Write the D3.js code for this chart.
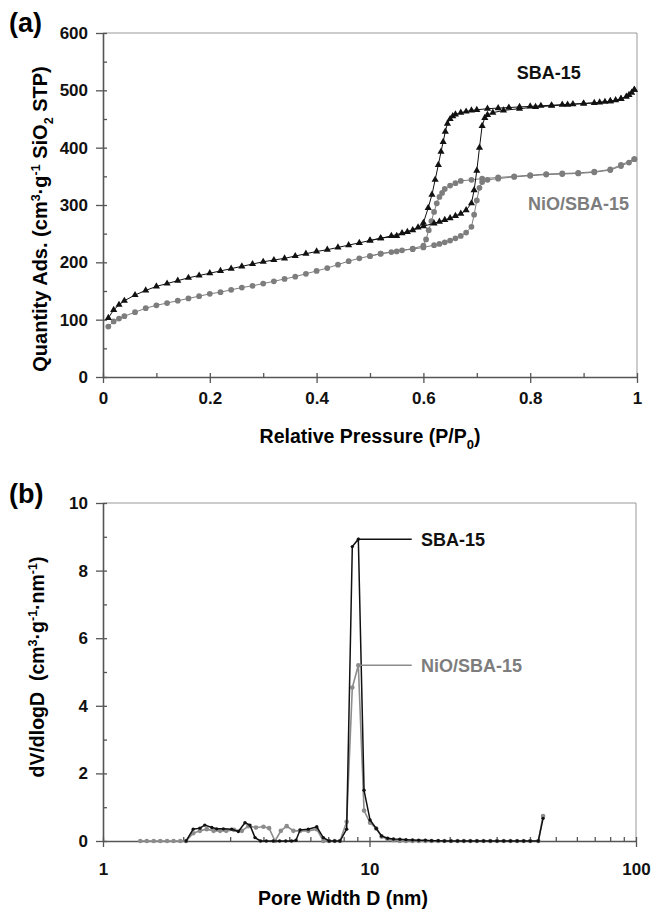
<!DOCTYPE html>
<html>
<head>
<meta charset="utf-8">
<script src="https://cdn.jsdelivr.net/npm/d3@7/dist/d3.min.js"></script>
<style>
  body { margin: 0; background: #fff; }
  text { font-family: "Liberation Sans", Arial, sans-serif; font-weight: bold; }
  .tick text { font-size: 17px; fill: #111; }
</style>
</head>
<body>
<div id="chart"></div>
<script>
// ---- (a) N2 isotherms: [P/P0, quantity adsorbed] ----
const sbaAds = [
  [0.01, 103], [0.02, 117], [0.03, 126], [0.04, 133], [0.06, 143], [0.08, 151], [0.10, 158],
  [0.12, 163], [0.14, 168], [0.16, 173], [0.18, 177], [0.20, 181], [0.22, 185], [0.24, 189],
  [0.26, 193], [0.28, 197], [0.30, 201], [0.32, 204], [0.34, 207], [0.36, 211], [0.38, 215],
  [0.40, 219], [0.42, 222], [0.44, 226], [0.46, 230], [0.48, 234], [0.50, 238], [0.52, 242],
  [0.54, 246], [0.56, 251], [0.58, 256], [0.60, 263], [0.62, 268], [0.63, 271], [0.64, 274],
  [0.65, 277], [0.66, 281], [0.67, 285], [0.68, 291], [0.69, 303], [0.695, 326], [0.70, 360],
  [0.705, 400], [0.71, 438], [0.715, 452], [0.72, 457], [0.73, 461], [0.75, 465], [0.78, 468],
  [0.81, 471], [0.84, 473], [0.87, 475], [0.90, 477], [0.93, 479], [0.95, 481], [0.97, 485],
  [0.98, 489], [0.99, 496], [0.995, 501]
]
const sbaDes = [
  [0.995, 501], [0.985, 492], [0.97, 485], [0.96, 483], [0.95, 481], [0.94, 480], [0.92, 478],
  [0.90, 477], [0.88, 476], [0.86, 475], [0.84, 474], [0.82, 473], [0.80, 472], [0.78, 471],
  [0.76, 470], [0.74, 469], [0.72, 468], [0.70, 466], [0.69, 465], [0.68, 463], [0.67, 461],
  [0.66, 458], [0.655, 455], [0.65, 450], [0.645, 442], [0.641, 428], [0.637, 410], [0.633, 393],
  [0.628, 370], [0.622, 344], [0.616, 318], [0.609, 295], [0.60, 269], [0.59, 261], [0.57, 253],
  [0.55, 246], [0.52, 242], [0.50, 238]
]
const nioAds = [
  [0.01, 88], [0.02, 97], [0.03, 102], [0.04, 106], [0.06, 113], [0.08, 120], [0.10, 125],
  [0.12, 129], [0.14, 133], [0.16, 137], [0.18, 141], [0.20, 145], [0.22, 148], [0.24, 152],
  [0.26, 156], [0.28, 159], [0.30, 163], [0.32, 167], [0.34, 171], [0.36, 175], [0.38, 180],
  [0.40, 185], [0.42, 190], [0.44, 196], [0.46, 202], [0.48, 207], [0.50, 211], [0.52, 215],
  [0.54, 218], [0.56, 221], [0.58, 223], [0.60, 226], [0.62, 230], [0.63, 232], [0.64, 235],
  [0.65, 238], [0.66, 242], [0.67, 246], [0.68, 252], [0.69, 262], [0.695, 283], [0.70, 308],
  [0.705, 330], [0.71, 340], [0.72, 344], [0.74, 346], [0.77, 349], [0.80, 351], [0.83, 353],
  [0.86, 354], [0.89, 355], [0.92, 357], [0.95, 361], [0.97, 368], [0.985, 374], [0.995, 380]
]
const nioDes = [
  [0.995, 380], [0.97, 370], [0.95, 362], [0.92, 358], [0.89, 356], [0.86, 355], [0.83, 354],
  [0.80, 352], [0.77, 350], [0.74, 348], [0.71, 346], [0.69, 344], [0.67, 342], [0.66, 338],
  [0.65, 334], [0.64, 328], [0.635, 321], [0.63, 314], [0.625, 303], [0.62, 288], [0.615, 272],
  [0.61, 256], [0.605, 240], [0.60, 229], [0.58, 224], [0.55, 219], [0.52, 215], [0.50, 211]
]
const xTicksA = [0, 0.2, 0.4, 0.6, 0.8, 1]
const xMinorA = [0.1, 0.3, 0.5, 0.7, 0.9]
const yTicksA = [0, 100, 200, 300, 400, 500, 600]
const yMinorA = [50, 150, 250, 350, 450, 550]

// ---- (b) pore size distribution: [D (nm), dV/dlogD] ----
const sbaPsd = [
  [2.05, 0], [2.18, 0.35], [2.31, 0.38], [2.41, 0.47], [2.56, 0.4], [2.67, 0.36], [2.83, 0.36],
  [3.04, 0.35], [3.22, 0.28], [3.41, 0.54], [3.56, 0.47], [3.72, 0.1], [3.9, 0], [4.1, 0],
  [4.35, 0], [4.6, 0], [4.85, 0], [5.1, 0], [5.3, 0.02], [5.49, 0.33], [5.89, 0.35], [6.34, 0.42],
  [6.71, 0.1], [7.05, 0], [7.4, 0], [7.75, 0], [8.21, 0.35], [8.62, 8.71], [9.08, 8.93],
  [9.54, 1.5], [10.05, 0.62], [10.6, 0.37], [11.1, 0.15], [11.7, 0.08], [12.3, 0.06],
  [13.0, 0.05], [13.7, 0.04], [14.5, 0.03], [15.3, 0.02], [16.2, 0.02], [17.1, 0.01],
  [18.1, 0.01], [19.1, 0], [20.2, 0], [21.4, 0], [22.6, 0], [23.9, 0], [25.3, 0], [26.8, 0],
  [28.4, 0], [30.1, 0], [31.9, 0], [33.8, 0], [35.8, 0], [37.9, 0], [40.1, 0], [43.0, 0],
  [44.8, 0.67]
]
const nioPsd = [
  [1.38, 0], [1.46, 0], [1.55, 0], [1.64, 0], [1.74, 0], [1.84, 0], [1.95, 0], [2.05, 0],
  [2.18, 0.23], [2.31, 0.3], [2.45, 0.35], [2.6, 0.3], [2.75, 0.3], [2.9, 0.3], [3.1, 0.33],
  [3.32, 0.3], [3.51, 0.44], [3.75, 0.4], [4.0, 0.42], [4.2, 0.38], [4.42, 0], [4.65, 0.3],
  [4.89, 0.44], [5.18, 0.3], [5.49, 0.3], [5.89, 0.3], [6.34, 0.35], [6.71, 0], [7.05, 0],
  [7.4, 0], [7.75, 0], [8.21, 0.57], [8.62, 4.54], [9.08, 5.2], [9.54, 0.9], [10.05, 0.54],
  [10.6, 0.37], [11.1, 0.13], [11.7, 0.05], [12.3, 0.02], [13.0, 0], [13.7, 0], [14.5, 0],
  [15.3, 0], [16.2, 0], [17.1, 0], [18.1, 0], [19.1, 0], [20.2, 0], [21.4, 0], [22.6, 0],
  [23.9, 0], [25.3, 0], [26.8, 0], [28.4, 0], [30.1, 0], [31.9, 0], [33.8, 0], [35.8, 0],
  [37.9, 0], [40.1, 0], [43.0, 0], [44.8, 0.74]
]
const xTicksB = [1, 10, 100]
const xMinorB = [2, 3, 4, 5, 6, 7, 8, 9, 20, 30, 40, 50, 60, 70, 80, 90]
const yTicksB = [0, 2, 4, 6, 8, 10]
const yMinorB = [1, 3, 5, 7, 9]

const BLACK = '#111'
const GRAY = '#7d7d7d'

const svg = d3.select('#chart')
  .append('svg')
  .attr('width', 651)
  .attr('height', 909)

// frame + inside/outside ticks for one panel
const drawAxes = (g, x, y, w, h, xt, xm, yt, ym, xfmt, xpad) => {
  // top & right frame
  g.append('path')
    .attr('d', `M0,0H${w}V${h}`)
    .attr('fill', 'none')
    .attr('stroke', '#999')
    .attr('stroke-width', 1)

  // inside ticks (major + minor)
  g.append('g')
    .attr('transform', `translate(0,${h})`)
    .call(d3.axisBottom(x).tickValues(xt.concat(xm)).tickSize(-4).tickFormat(''))
    .call(s => s.select('.domain').remove())
  g.append('g')
    .call(d3.axisLeft(y).tickValues(yt.concat(ym)).tickSize(-4).tickFormat(''))
    .call(s => s.select('.domain').remove())

  // outside ticks with labels
  g.append('g')
    .attr('transform', `translate(0,${h})`)
    .call(d3.axisBottom(x).tickValues(xt).tickSize(6).tickSizeOuter(0).tickPadding(xpad).tickFormat(xfmt))
  g.append('g')
    .call(d3.axisLeft(y).tickValues(yt).tickSize(7).tickSizeOuter(0).tickPadding(8))

  g.selectAll('.tick line').attr('stroke', '#555').attr('stroke-width', 1.3)
  g.selectAll('.domain').attr('stroke', '#555').attr('stroke-width', 1.6)
}

// ---------------- Panel (a) ----------------
const gA = svg.append('g').attr('transform', 'translate(103,33)')
const wA = 534
const hA = 344
const xA = d3.scaleLinear().domain([0, 1]).range([0, wA])
const yA = d3.scaleLinear().domain([0, 600]).range([hA, 0])

drawAxes(gA, xA, yA, wA, hA, xTicksA, xMinorA, yTicksA, yMinorA, d => d, 9)

const lineA = d3.line().x(d => xA(d[0])).y(d => yA(d[1]))

const drawIso = (data, color, marker) => {
  gA.append('path')
    .datum(data)
    .attr('fill', 'none')
    .attr('stroke', color)
    .attr('stroke-width', 1)
    .attr('d', lineA)
  gA.append('g')
    .selectAll('path')
    .data(data)
    .join('path')
    .attr('transform', d => `translate(${xA(d[0])},${yA(d[1])})`)
    .attr('d', d3.symbol().type(marker).size(marker === d3.symbolTriangle ? 22 : 26))
    .attr('fill', color)
}

drawIso(nioAds, GRAY, d3.symbolCircle)
drawIso(nioDes, GRAY, d3.symbolCircle)
drawIso(sbaAds, BLACK, d3.symbolTriangle)
drawIso(sbaDes, BLACK, d3.symbolTriangle)

gA.append('text')
  .attr('x', xA(0.775)).attr('y', yA(520))
  .attr('font-size', 18).attr('fill', BLACK)
  .text('SBA-15')
gA.append('text')
  .attr('x', xA(0.796)).attr('y', yA(292))
  .attr('font-size', 18).attr('fill', GRAY)
  .text('NiO/SBA-15')

// axis titles (a)
svg.append('text')
  .attr('x', 370).attr('y', 443)
  .attr('text-anchor', 'middle')
  .attr('font-size', 19.5)
  .call(t => {
    t.append('tspan').text('Relative Pressure (P/P')
    t.append('tspan').attr('dy', 6).attr('font-size', 13).text('0')
    t.append('tspan').attr('dy', -6).text(')')
  })

svg.append('text')
  .attr('transform', 'translate(47,219) rotate(-90)')
  .attr('text-anchor', 'middle')
  .attr('font-size', 20)
  .call(t => {
    t.append('tspan').text('Quantity Ads. (cm')
    t.append('tspan').attr('dy', -7).attr('font-size', 12.5).text('3')
    t.append('tspan').attr('dy', 7).text('·g')
    t.append('tspan').attr('dy', -7).attr('font-size', 12.5).text('-1')
    t.append('tspan').attr('dy', 7).text(' SiO')
    t.append('tspan').attr('dy', 6).attr('font-size', 12.5).text('2')
    t.append('tspan').attr('dy', -6).text(' STP)')
  })

svg.append('text')
  .attr('x', 9).attr('y', 32)
  .attr('font-size', 27)
  .text('(a)')

// ---------------- Panel (b) ----------------
const gB = svg.append('g').attr('transform', 'translate(103,503)')
const wB = 533
const hB = 338
const xB = d3.scaleLog().domain([1, 100]).range([0, wB])
const yB = d3.scaleLinear().domain([0, 10]).range([hB, 0])

drawAxes(gB, xB, yB, wB, hB, xTicksB, xMinorB, yTicksB, yMinorB, d3.format('d'), 16)

const lineB = d3.line().x(d => xB(d[0])).y(d => yB(d[1]))

const drawPsd = (data, color, r, lw) => {
  gB.append('path')
    .datum(data)
    .attr('fill', 'none')
    .attr('stroke', color)
    .attr('stroke-width', lw)
    .attr('d', lineB)
  gB.append('g')
    .selectAll('circle')
    .data(data)
    .join('circle')
    .attr('cx', d => xB(d[0]))
    .attr('cy', d => yB(d[1]))
    .attr('r', r)
    .attr('fill', color)
}

drawPsd(nioPsd, '#8c8c8c', 2.3, 1.6)
drawPsd(sbaPsd, BLACK, 1.7, 1.5)

// leader lines + labels, anchored at the peak points
const sbaPeak = sbaPsd[28]
const nioPeak = nioPsd[33]
gB.append('line')
  .attr('x1', xB(sbaPeak[0])).attr('y1', yB(sbaPeak[1]))
  .attr('x2', xB(14.4)).attr('y2', yB(sbaPeak[1]))
  .attr('stroke', BLACK).attr('stroke-width', 1.5)
gB.append('text')
  .attr('x', xB(15.6)).attr('y', yB(sbaPeak[1]) + 7)
  .attr('font-size', 18).attr('fill', BLACK)
  .text('SBA-15')
gB.append('line')
  .attr('x1', xB(nioPeak[0])).attr('y1', yB(nioPeak[1]))
  .attr('x2', xB(14.4)).attr('y2', yB(nioPeak[1]))
  .attr('stroke', '#8c8c8c').attr('stroke-width', 1.5)
gB.append('text')
  .attr('x', xB(15.6)).attr('y', yB(nioPeak[1]) + 7)
  .attr('font-size', 18).attr('fill', GRAY)
  .text('NiO/SBA-15')

// axis titles (b)
svg.append('text')
  .attr('x', 343).attr('y', 905)
  .attr('text-anchor', 'middle')
  .attr('font-size', 19.5)
  .text('Pore Width D (nm)')

svg.append('text')
  .attr('transform', 'translate(44,667) rotate(-90)')
  .attr('text-anchor', 'middle')
  .attr('font-size', 19.5)
  .call(t => {
    t.append('tspan').text('dV/dlogD\u00a0\u00a0(cm')
    t.append('tspan').attr('dy', -7).attr('font-size', 12.5).text('3')
    t.append('tspan').attr('dy', 7).text('·g')
    t.append('tspan').attr('dy', -7).attr('font-size', 12.5).text('-1')
    t.append('tspan').attr('dy', 7).text('·nm')
    t.append('tspan').attr('dy', -7).attr('font-size', 12.5).text('-1')
    t.append('tspan').attr('dy', 7).text(')')
  })

svg.append('text')
  .attr('x', 9).attr('y', 503)
  .attr('font-size', 27)
  .text('(b)')
</script>
</body>
</html>
